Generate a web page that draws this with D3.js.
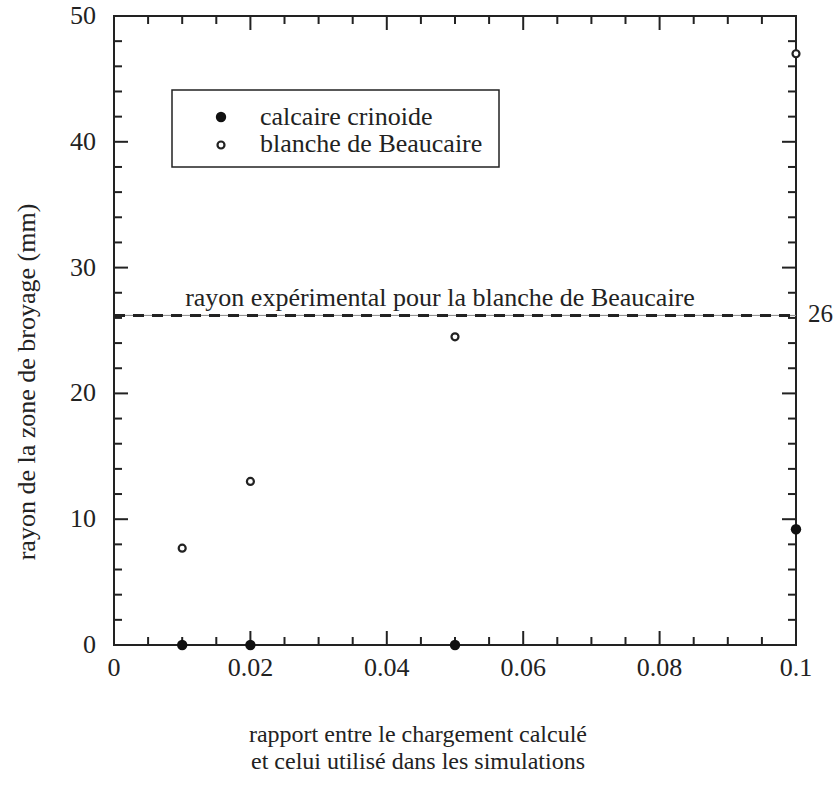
<!DOCTYPE html>
<html>
<head>
<meta charset="utf-8">
<script src="https://cdn.jsdelivr.net/npm/d3@7"></script>
<style>
  body { margin: 0; background: #fff; }
  text { font-family: "Liberation Serif", "Times New Roman", serif; fill: #222; }
</style>
</head>
<body>
<svg id="chart"></svg>
<script>
// data
var ratio = [0.01, 0.02, 0.05, 0.1];
var calcaire = [0, 0, 0, 9.2];
var beaucaire = [7.7, 13, 24.5, 47];
var seriesNames = ['calcaire crinoide', 'blanche de Beaucaire'];
var xTicks = [0, 0.02, 0.04, 0.06, 0.08, 0.1];
var yTicks = [0, 10, 20, 30, 40, 50];
var experimental = 26.2;
var experimentalLabel = 'rayon expérimental pour la blanche de Beaucaire';

var W = 838, H = 785;
var pLeft = 114, pRight = 796, pTop = 16, pBottom = 645;

var svg = d3.select('#chart')
  .attr('width', W)
  .attr('height', H);

var x = d3.scaleLinear().domain([0, 0.1]).range([pLeft, pRight]);
var y = d3.scaleLinear().domain([0, 50]).range([pBottom, pTop]);

var xMinor = d3.range(0, 0.1001, 0.005);
var yMinor = d3.range(0, 50.01, 2);

// frame
svg.append('rect')
  .attr('x', pLeft).attr('y', pTop)
  .attr('width', pRight - pLeft).attr('height', pBottom - pTop)
  .style('fill', 'none').style('stroke', '#222').style('stroke-width', 2);

function isMajor(v, step) {
  return Math.abs(v / step - Math.round(v / step)) < 1e-6;
}

// ticks, all pointing inward
var tickG = svg.append('g').style('stroke', '#222').style('stroke-width', 2);
xMinor.forEach(function(v){
  var len = isMajor(v, 0.02) ? 14 : 8;
  tickG.append('line').attr('x1', x(v)).attr('x2', x(v)).attr('y1', pBottom).attr('y2', pBottom - len);
  tickG.append('line').attr('x1', x(v)).attr('x2', x(v)).attr('y1', pTop).attr('y2', pTop + len);
});
yMinor.forEach(function(v){
  var len = isMajor(v, 10) ? 14 : 8;
  tickG.append('line').attr('y1', y(v)).attr('y2', y(v)).attr('x1', pLeft).attr('x2', pLeft + len);
  tickG.append('line').attr('y1', y(v)).attr('y2', y(v)).attr('x1', pRight).attr('x2', pRight - len);
});

// tick labels
svg.selectAll('.xlab')
  .data(xTicks)
  .enter().append('text')
    .attr('class', 'xlab')
    .attr('x', function(d){ return x(d); })
    .attr('y', 676)
    .attr('text-anchor', 'middle')
    .style('font-size', '26px')
    .text(function(d){ return d3.format('~g')(d); });

svg.selectAll('.ylab')
  .data(yTicks)
  .enter().append('text')
    .attr('class', 'ylab')
    .attr('x', 96)
    .attr('y', function(d){ return y(d) + 8; })
    .attr('text-anchor', 'end')
    .style('font-size', '26px')
    .text(function(d){ return d; });

// axis titles
svg.append('text')
  .attr('transform', 'translate(35,382) rotate(-90)')
  .attr('text-anchor', 'middle')
  .style('font-size', '26px')
  .text('rayon de la zone de broyage (mm)');

var xTitle = svg.append('text')
  .attr('text-anchor', 'middle')
  .style('font-size', '24px');
xTitle.append('tspan').attr('x', 418).attr('y', 742).text('rapport entre le chargement calculé');
xTitle.append('tspan').attr('x', 418).attr('y', 769).text('et celui utilisé dans les simulations');

// experimental radius line
svg.append('line')
  .attr('x1', pLeft).attr('x2', pRight)
  .attr('y1', y(experimental)).attr('y2', y(experimental))
  .style('stroke', '#888').style('stroke-width', 1);
svg.append('line')
  .attr('x1', pLeft).attr('x2', pRight)
  .attr('y1', y(experimental)).attr('y2', y(experimental))
  .style('stroke', '#222').style('stroke-width', 3)
  .style('stroke-dasharray', '11,8');
svg.append('text')
  .attr('x', 440).attr('y', y(experimental) - 9)
  .attr('text-anchor', 'middle')
  .style('font-size', '26px')
  .text(experimentalLabel);
svg.append('text')
  .attr('x', 808).attr('y', y(experimental) + 7)
  .style('font-size', '25px')
  .text(d3.format('d')(experimental));

// points
svg.selectAll('.calc')
  .data(ratio)
  .enter().append('circle')
    .attr('class', 'calc')
    .attr('cx', function(d){ return x(d); })
    .attr('cy', function(d, i){ return y(calcaire[i]); })
    .attr('r', 5.2)
    .style('fill', '#111');

svg.selectAll('.beau')
  .data(ratio)
  .enter().append('circle')
    .attr('class', 'beau')
    .attr('cx', function(d){ return x(d); })
    .attr('cy', function(d, i){ return y(beaucaire[i]); })
    .attr('r', 3.5)
    .style('fill', '#fff').style('stroke', '#222').style('stroke-width', 2.2);

// legend
var leg = svg.append('g');
leg.append('rect')
  .attr('x', 172).attr('y', 90).attr('width', 327).attr('height', 77)
  .style('fill', '#fff').style('stroke', '#222').style('stroke-width', 1.5);
leg.append('circle').attr('cx', 221).attr('cy', 117).attr('r', 5.2).style('fill', '#111');
leg.append('circle').attr('cx', 221).attr('cy', 145).attr('r', 3.5)
  .style('fill', '#fff').style('stroke', '#222').style('stroke-width', 2.2);
leg.selectAll('.legtext')
  .data(seriesNames)
  .enter().append('text')
    .attr('class', 'legtext')
    .attr('x', 260)
    .attr('y', function(d, i){ return 125 + i * 27; })
    .style('font-size', '26px')
    .text(function(d){ return d; });
</script>
</body>
</html>
